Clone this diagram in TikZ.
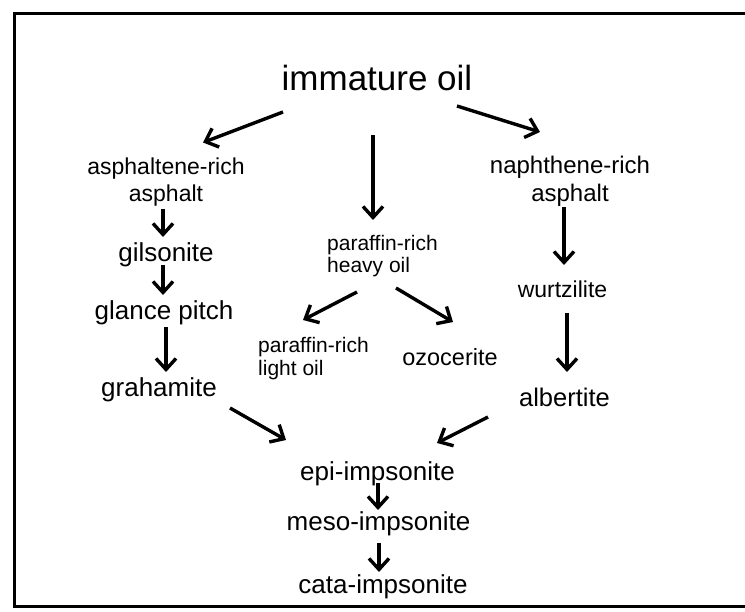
\documentclass[tikz,border=0pt]{standalone}
\usepackage{fontspec}
\setmainfont{Liberation Sans}
\usetikzlibrary{arrows.meta}

\begin{document}
\begin{tikzpicture}[
    x=1pt, y=-1pt,
    lbl/.style={inner sep=0pt, anchor=base},
    two/.style={inner sep=0pt, anchor=north, align=center},
    twol/.style={inner sep=0pt, anchor=north west, align=left},
    arr/.style={-{Straight Barb[length=11pt, width=20pt]}, line width=3.4pt}
]
\useasboundingbox (0,0) rectangle (745,612);

% Frame
\draw[line width=3pt] (14,14) rectangle (760,606);

% Source
\node[lbl, font=\fontsize{35}{42}\selectfont] (oil) at (377,91) {immature oil};

% Asphaltene branch
\node[two, font=\fontsize{23}{27}\selectfont] (asph) at (166,157.5) {asphaltene-rich\\asphalt};
\node[lbl, font=\fontsize{26}{30}\selectfont] (gils) at (166,262) {gilsonite};
\node[lbl, font=\fontsize{26}{30}\selectfont] (glance) at (164,320) {glance pitch};
\node[lbl, font=\fontsize{26}{30}\selectfont] (graham) at (159,397) {grahamite};

% Paraffin branch
\node[twol, font=\fontsize{21}{22}\selectfont] (heavy) at (327,235) {paraffin-rich\\heavy oil};
\node[twol, font=\fontsize{21}{23}\selectfont] (light) at (258,337) {paraffin-rich\\light oil};
\node[lbl, font=\fontsize{23.5}{28}\selectfont] (ozoc) at (450,366) {ozocerite};

% Naphthene branch
\node[two, font=\fontsize{24}{28}\selectfont] (naph) at (570,156) {naphthene-rich\\asphalt};
\node[lbl, font=\fontsize{23}{28}\selectfont] (wurtz) at (562.5,298) {wurtzilite};
\node[lbl, font=\fontsize{25.5}{30}\selectfont] (albert) at (564.5,407) {albertite};

% Impsonites
\node[lbl, font=\fontsize{26}{30}\selectfont] (epi) at (377.5,480) {epi-impsonite};
\node[lbl, font=\fontsize{26}{30}\selectfont] (meso) at (378.5,530) {meso-impsonite};
\node[lbl, font=\fontsize{26}{30}\selectfont] (cata) at (383,593) {cata-impsonite};

% Arrows
\draw[arr] ([shift={(-94,21)}]oil.base) -- ([shift={(37,-15)}]asph.north);
\draw[arr] ([shift={(-4,44)}]oil.base) -- ([shift={(46,-15)}]heavy.north west);
\draw[arr] ([shift={(80,15)}]oil.base) -- ([shift={(-30,-24)}]naph.north);

\draw[arr] ([shift={(-3,3)}]asph.south) -- ([shift={(-3,-25)}]gils.base);
\draw[arr] ([shift={(-3,3)}]gils.base) -- ([shift={(-1,-25)}]glance.base);
\draw[arr] ([shift={(2,7)}]glance.base) -- ([shift={(7,-25)}]graham.base);

\draw[arr] ([shift={(30,57)}]heavy.north west) -- ([shift={(45,-17)}]light.north west);
\draw[arr] ([shift={(69,53)}]heavy.north west) -- ([shift={(3,-44)}]ozoc.base);

\draw[arr] ([shift={(-6,0)}]naph.south) -- ([shift={(1.5,-33)}]wurtz.base);
\draw[arr] ([shift={(4.5,15)}]wurtz.base) -- ([shift={(2.5,-35)}]albert.base);

\draw[arr] ([shift={(71,11)}]graham.base) -- ([shift={(-91.5,-40)}]epi.base);
\draw[arr] ([shift={(-76.5,10)}]albert.base) -- ([shift={(59.5,-37)}]epi.base);
\draw[arr] ([shift={(0.5,3)}]epi.base) -- ([shift={(-0.5,-20)}]meso.base);
\draw[arr] ([shift={(0.5,13)}]meso.base) -- ([shift={(-4,-21)}]cata.base);

\end{tikzpicture}
\end{document}
